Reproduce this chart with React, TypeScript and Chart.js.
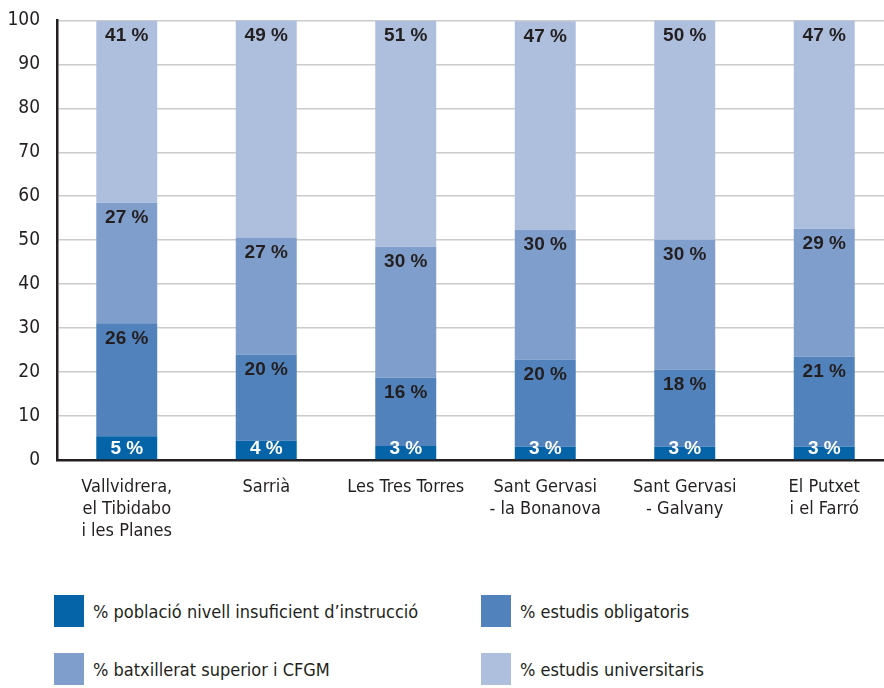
import React, { useEffect, useRef } from "react";
import { Chart, registerables } from "chart.js";

Chart.register(...registerables);

const categories: string[][] = [
  ["Vallvidrera,", "el Tibidabo", "i les Planes"],
  ["Sarrià"],
  ["Les Tres Torres"],
  ["Sant Gervasi", "- la Bonanova"],
  ["Sant Gervasi", "- Galvany"],
  ["El Putxet", "i el Farró"],
];
const seriesNames = [
  "% població nivell insuficient d’instrucció",
  "% estudis obligatoris",
  "% batxillerat superior i CFGM",
  "% estudis universitaris",
];
const insuficient = [5.4, 4.4, 3.2, 3.0, 3.0, 3.0];
const obligatoris = [25.7, 19.6, 15.5, 19.8, 17.6, 20.5];
const batxillerat = [27.4, 26.6, 29.8, 29.6, 29.5, 29.1];
const universitaris = [41.4, 49.4, 51.4, 47.4, 49.9, 47.4];
const yMin = 0;
const yMax = 100;
const yStep = 10;

const colors = ["#0563a8", "#5282bb", "#809ecb", "#aebfde"];
const TEXT = "#231f20";
const FONT = "'DejaVu Sans Condensed', 'Liberation Sans Narrow', sans-serif";
const BOLD_FONT = "'Liberation Sans', Arial, sans-serif";

const labelPlugin = {
  id: "segLabels",
  afterDatasetsDraw(chart: any) {
    const ctx = chart.ctx;
    ctx.save();
    ctx.font = `bold 19px ${BOLD_FONT}`;
    ctx.textAlign = "center";
    ctx.textBaseline = "middle";
    chart.data.datasets.forEach((ds: any, di: number) => {
      const meta = chart.getDatasetMeta(di);
      meta.data.forEach((el: any, i: number) => {
        const v = ds.data[i];
        const txt = `${Math.round(v)} %`;
        const top = Math.min(el.y, el.base);
        const bottom = Math.max(el.y, el.base);
        let y = top + 15;
        if (di === 0) {
          y = bottom - 10;
          ctx.fillStyle = "#ffffff";
        } else {
          ctx.fillStyle = TEXT;
        }
        ctx.fillText(txt, el.x, y);
      });
    });
    ctx.restore();
  },
};

export default function App() {
  const ref = useRef<HTMLCanvasElement | null>(null);
  useEffect(() => {
    if (!ref.current) return;
    const series = [insuficient, obligatoris, batxillerat, universitaris];
    const chart = new Chart(ref.current, {
      type: "bar",
      data: {
        labels: categories,
        datasets: series.map((d, i) => ({
          label: seriesNames[i],
          data: d,
          backgroundColor: colors[i],
          borderWidth: 0,
          barPercentage: 0.437,
          categoryPercentage: 1,
        })),
      },
      options: {
        animation: false,
        responsive: true,
        maintainAspectRatio: false,
        layout: { padding: { top: 0, left: 0, right: 0, bottom: 0 } },
        plugins: {
          legend: { display: false },
          tooltip: { enabled: false },
        },
        scales: {
          x: {
            stacked: true,
            grid: { display: false, drawTicks: false },
            border: { display: true, color: TEXT, width: 2.5 },
            ticks: {
              color: TEXT,
              font: { family: FONT, size: 18, lineHeight: 1.22 },
              padding: 16,
              maxRotation: 0,
              autoSkip: false,
            },
            afterFit(scale: any) {
              scale.height = 110;
            },
          },
          y: {
            stacked: true,
            min: yMin,
            max: yMax,
            grid: { color: "#cbcbcb", lineWidth: 1.5, drawTicks: false },
            border: { display: true, color: TEXT, width: 2.5 },
            ticks: {
              stepSize: yStep,
              color: TEXT,
              font: { family: FONT, size: 19 },
              padding: 17,
            },
            afterFit(scale: any) {
              scale.width = 57;
            },
          },
        },
      },
      plugins: [labelPlugin],
    });
    return () => chart.destroy();
  }, []);

  const legendItem = (i: number, x: number, y: number) => (
    <div key={i} style={{ position: "absolute", left: x, top: y, display: "flex", alignItems: "center" }}>
      <div style={{ width: 30, height: 32, background: colors[i] }} />
      <span
        style={{
          marginLeft: 9,
          fontFamily: FONT,
          fontSize: 18,
          color: TEXT,
          whiteSpace: "nowrap",
        }}
      >
        {seriesNames[i]}
      </span>
    </div>
  );

  return (
    <div
      style={{
        position: "fixed",
        left: 0,
        top: 0,
        width: 884,
        height: 688,
        overflow: "hidden",
        background: "#ffffff",
      }}
    >
      <div style={{ position: "absolute", left: 0, top: -8, width: 894, height: 578 }}>
        <canvas ref={ref} />
      </div>
      {legendItem(0, 54, 595)}
      {legendItem(1, 481, 595)}
      {legendItem(2, 54, 653)}
      {legendItem(3, 481, 653)}
    </div>
  );
}
